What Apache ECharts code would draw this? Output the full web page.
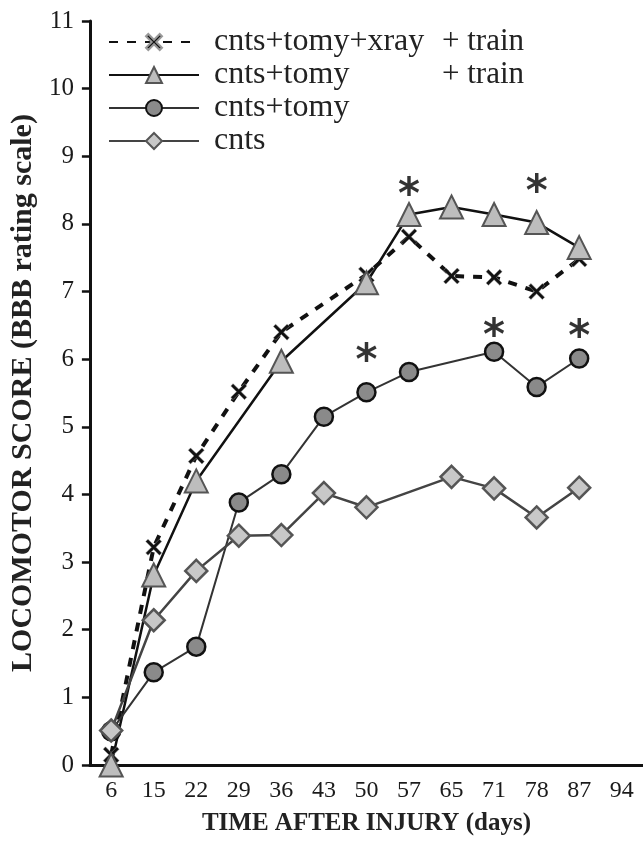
<!DOCTYPE html>
<html>
<head>
<meta charset="utf-8">
<script src="https://cdn.jsdelivr.net/npm/echarts@6/dist/echarts.min.js"></script>
<style>
  html, body { margin: 0; padding: 0; background: #fff; }
  #chart { width: 643px; height: 841px; }
</style>
</head>
<body>
<div id="chart"></div>
<script>
// days after injury (category axis)
var days = ['6', '15', '22', '29', '36', '43', '50', '57', '65', '71', '78', '87', '94'];
var yTicks = [0, 11, 1]; // min, max, step

// BBB scores (null = no point at that day)
var xrayTrain = [0.15, 3.22, 4.57, 5.52, 6.4, null, 7.25, 7.81, 7.23, 7.21, 7.0, 7.48, null];
var tomyTrain = [0, 2.81, 4.2, null, 5.97, null, 7.13, 8.14, 8.25, 8.14, 8.02, 7.65, null];
var tomy = [0.5, 1.37, 1.75, 3.88, 4.3, 5.15, 5.51, 5.81, null, 6.11, 5.59, 6.01, null];
var cnts = [0.51, 2.14, 2.87, 3.39, 3.4, 4.02, 3.81, null, 4.26, 4.09, 3.66, 4.1, null];

// significance asterisks
var starDays = ['50', '57', '71', '78', '87'];
var starY = [6.12, 8.58, 6.49, 8.62, 6.47];

var names = ['cnts+tomy+xray + train', 'cnts+tomy + train', 'cnts+tomy', 'cnts'];

var serif = 'Liberation Serif';
var crossPath = 'path://M0,2 L2,0 L7,5 L12,0 L14,2 L9,7 L14,12 L12,14 L7,9 L2,14 L0,12 L5,7 Z';

var stars = [];
for (var i = 0; i < starDays.length; i++) {
    stars.push([starDays[i], starY[i]]);
}

var myChart = echarts.init(document.getElementById('chart'));
var option = {
    backgroundColor: '#fff',
    animation: false,
    grid: {
        left: 86,
        top: 21,
        width: 559,
        height: 745
    },
    legend: {
        data: names,
        orient: 'vertical',
        left: 108,
        top: 26,
        padding: 0,
        itemWidth: 90,
        itemHeight: 20,
        itemGap: 1,
        formatter: function (name) {
            var k = name.indexOf(' + train');
            if (k > 0) {
                return '{a|' + name.substring(0, k) + '}{b|+ train}';
            }
            return '{a|' + name + '}';
        },
        textStyle: {
            fontFamily: serif,
            fontSize: 32,
            color: '#222',
            lineHeight: 30,
            padding: [0, 0, 0, 10],
            rich: {
                a: { fontFamily: serif, fontSize: 32, color: '#222', width: 228 },
                b: { fontFamily: serif, fontSize: 31, color: '#222' }
            }
        }
    },
    xAxis: {
        type: 'category',
        data: days,
        name: 'TIME AFTER INJURY (days)',
        nameLocation: 'middle',
        nameGap: 46,
        nameTextStyle: { fontFamily: serif, fontSize: 25, fontWeight: 'bold', color: '#222' },
        axisLine: { lineStyle: { color: '#111', width: 3 } },
        axisTick: { length: 8, lineStyle: { color: '#111', width: 2.5 } },
        axisLabel: { fontFamily: serif, fontSize: 24, color: '#1a1a1a', margin: 14 },
        splitLine: { show: false }
    },
    yAxis: {
        type: 'value',
        min: yTicks[0],
        max: yTicks[1],
        interval: yTicks[2],
        name: 'LOCOMOTOR SCORE (BBB rating scale)',
        nameLocation: 'middle',
        nameGap: 50,
        nameTextStyle: { fontFamily: serif, fontSize: 30, fontWeight: 'bold', color: '#222' },
        axisLine: { show: true, lineStyle: { color: '#111', width: 3 } },
        axisTick: { show: true, length: 8, lineStyle: { color: '#111', width: 2.5 } },
        axisLabel: { fontFamily: serif, fontSize: 25, color: '#1a1a1a', margin: 16 },
        splitLine: { show: false }
    },
    series: [
        {
            name: names[0],
            type: 'line',
            data: xrayTrain,
            connectNulls: true,
            symbol: crossPath,
            symbolSize: 16,
            lineStyle: { color: '#111', width: 4, type: [9, 9] },
            itemStyle: { color: '#111', borderColor: '#999', borderWidth: 0.5 }
        },
        {
            name: names[1],
            type: 'line',
            data: tomyTrain,
            connectNulls: true,
            symbol: 'triangle',
            symbolSize: 23,
            lineStyle: { color: '#111', width: 2.5 },
            itemStyle: { color: '#bdbdbd', borderColor: '#555', borderWidth: 2 }
        },
        {
            name: names[2],
            type: 'line',
            data: tomy,
            connectNulls: true,
            symbol: 'circle',
            symbolSize: 18,
            lineStyle: { color: '#333', width: 2 },
            itemStyle: { color: '#8a8a8a', borderColor: '#111', borderWidth: 2.5 }
        },
        {
            name: names[3],
            type: 'line',
            data: cnts,
            connectNulls: true,
            symbol: 'diamond',
            symbolSize: 22,
            lineStyle: { color: '#444', width: 2.5 },
            itemStyle: { color: '#c8c8c8', borderColor: '#555', borderWidth: 2.5 }
        },
        {
            name: 'significance',
            type: 'scatter',
            data: stars,
            symbol: 'circle',
            symbolSize: 1,
            silent: true,
            itemStyle: { color: 'rgba(0,0,0,0)' },
            label: {
                show: true,
                position: 'inside',
                formatter: '*',
                fontFamily: 'DejaVu Sans',
                fontWeight: 'bold',
                fontSize: 42,
                color: '#000',
                offset: [0, 12]
            }
        }
    ]
};
myChart.setOption(option);
</script>
</body>
</html>
